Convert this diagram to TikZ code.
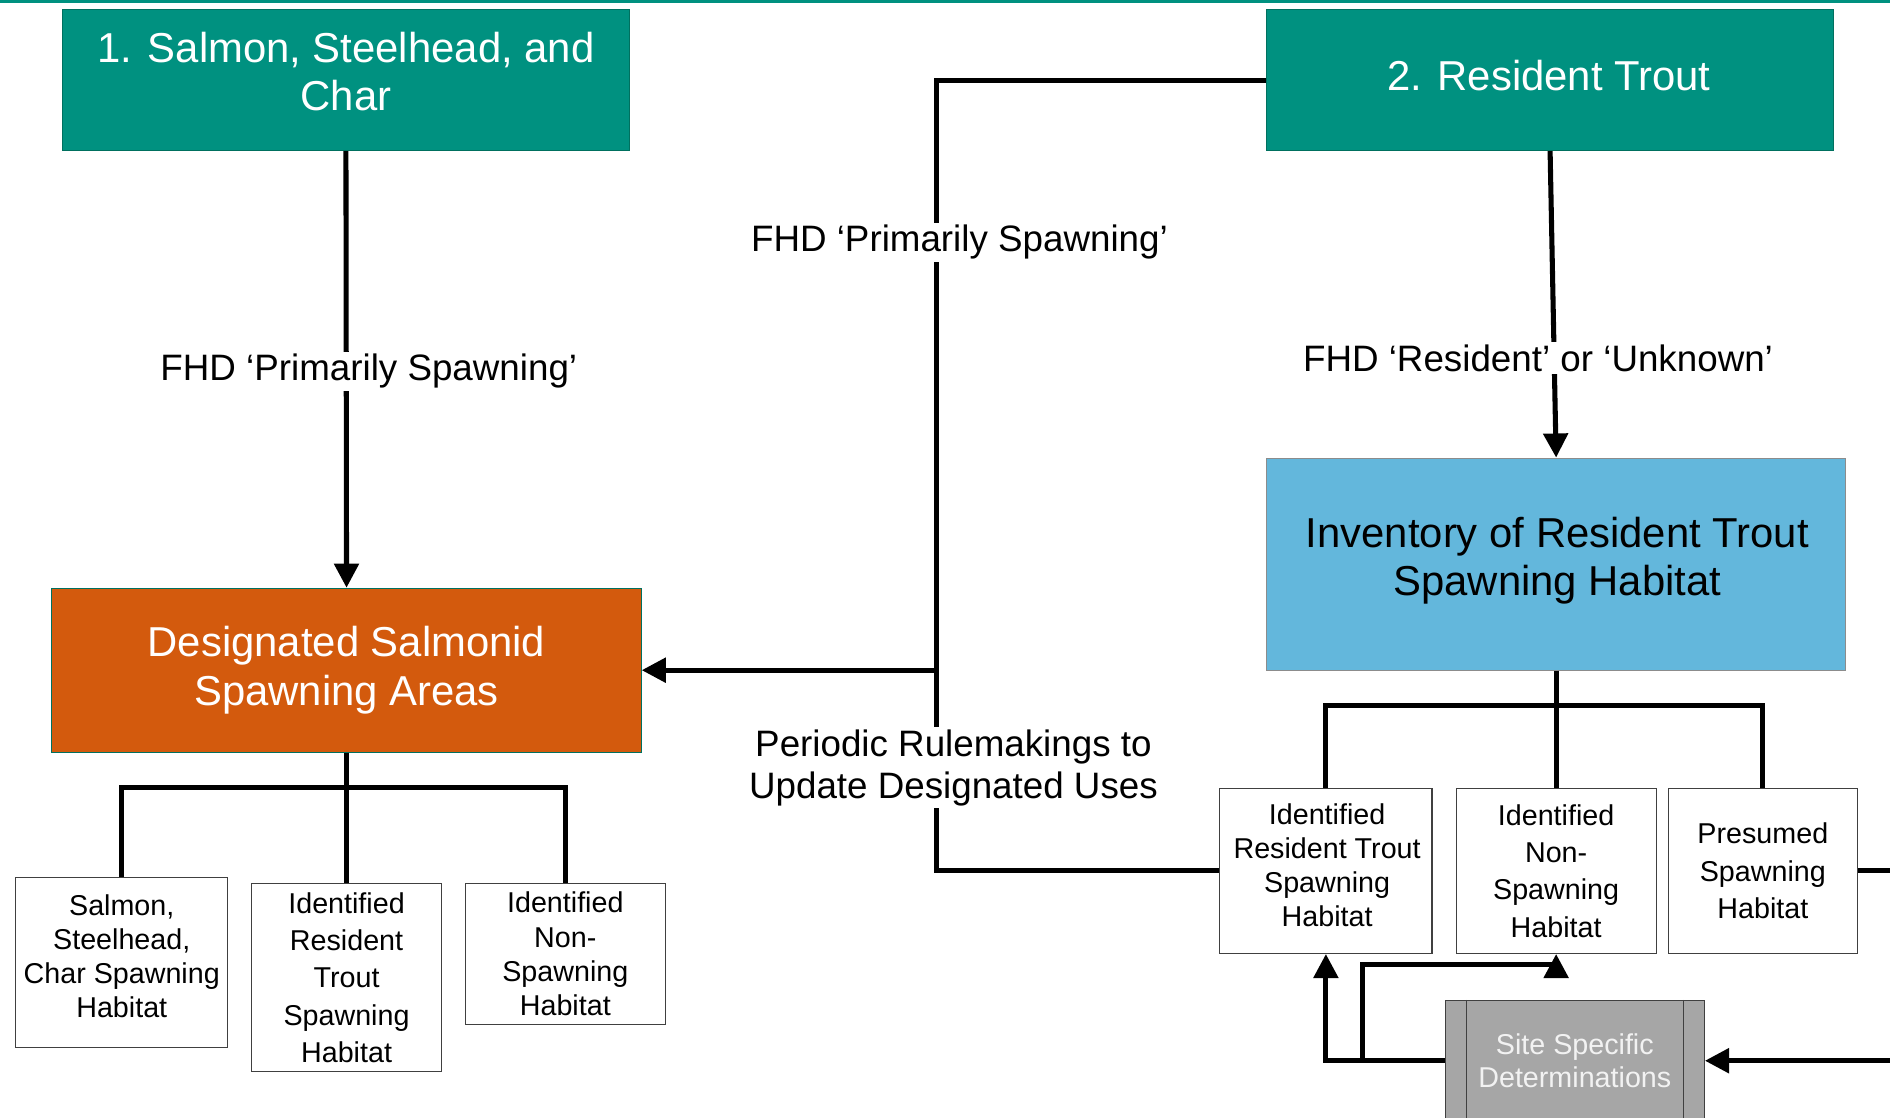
\documentclass[tikz,border=0pt]{standalone}
\usepackage{fontspec}
\setmainfont{Liberation Sans}
\usetikzlibrary{arrows.meta}
\definecolor{tealbox}{HTML}{009180}
\definecolor{tealedge}{HTML}{00705F}
\definecolor{orangebox}{HTML}{D35A0D}
\definecolor{bluebox}{HTML}{63B7DC}
\definecolor{graybox}{HTML}{A6A6A6}
\begin{document}
\begin{tikzpicture}[x=1pt,y=-1pt,
  conn/.style={line width=4.2pt},
  arr/.style={conn,-{Triangle[length=20pt,width=20pt]}},
  bigfont/.style={font=\fontsize{34.7}{40}\selectfont},
  tealnode/.style={draw=tealedge,line width=0.8pt,fill=tealbox,inner sep=0pt,minimum width=470pt,minimum height=117pt},
  orangenode/.style={bigfont,draw=tealedge,line width=0.8pt,fill=orangebox,text=white,align=center,inner sep=0pt,minimum width=489pt,minimum height=136pt},
  bluenode/.style={draw=black!45,line width=0.8pt,fill=bluebox,inner sep=0pt,minimum width=480pt,minimum height=176pt},
  bigtext/.style={bigfont,align=center,inner sep=0pt},
  smallbox/.style={draw=black!75,line width=0.9pt,fill=white,align=center,inner sep=0pt,font=\fontsize{23.8}{28.5}\selectfont},
  smalltext/.style={align=center,inner sep=0pt,font=\fontsize{23.8}{28.2}\selectfont},
  wideline/.style={font=\fontsize{23.8}{31}\selectfont},
  graynode/.style={draw=black!75,line width=0.9pt,fill=graybox,text=black!5,align=center,inner sep=0pt,font=\fontsize{23.8}{28}\selectfont,minimum width=215pt,minimum height=100pt},
  lbl/.style={fill=white,align=center,inner sep=2pt,font=\fontsize{30.5}{35}\selectfont}
]
\useasboundingbox (0,0) rectangle (1568,927);
\clip (0,0) rectangle (1568,927);
\fill[tealbox] (0,0) rectangle (1568,2.5);

% main boxes
\node[tealnode] (b1) at (287,66.5) {};
\node[bigtext,text=white] (b1t) at (287,59.5) {1. Salmon, Steelhead, and\\Char};
\node[tealnode] (b2) at (1286,66.5) {};
\node[bigtext,text=white] (b2t) at (1285,62.5) {2. Resident Trout};
\node[orangenode] (des) at (287.5,556) {Designated Salmonid\\Spawning Areas};
\node[bluenode] (inv) at (1291,468) {};
\node[bigtext,text=black] (invt) at (1292,465) {Inventory of Resident Trout\\Spawning Habitat};

% left small boxes
\node[smallbox,minimum width=176pt,minimum height=141pt] (sa) at (101,798.5) {};
\node[smalltext] (sat) at (101,793.5) {Salmon,\\Steelhead,\\Char Spawning\\Habitat};
\node[smallbox,wideline,minimum width=157pt,minimum height=156pt] (sb) at (287.5,811) {Identified\\Resident\\Trout\\Spawning\\Habitat};
\node[smallbox,minimum width=166pt,minimum height=117pt] (sc) at (469,791.5) {Identified\\Non-\\Spawning\\Habitat};

% right small boxes
\node[smallbox,minimum width=176pt,minimum height=137pt] (irt) at (1100,722.5) {};
\node[smalltext] (irtt) at (1101,718) {Identified\\Resident Trout\\Spawning\\Habitat};
\node[smallbox,wideline,minimum width=166pt,minimum height=137pt] (ins) at (1291,722.5) {Identified\\Non-\\Spawning\\Habitat};
\node[smallbox,wideline,minimum width=157pt,minimum height=137pt] (psh) at (1462.5,722.5) {Presumed\\Spawning\\Habitat};

% site specific
\node[graynode] (ssd) at (1306.5,880) {Site Specific\\Determinations};
\draw[black!75,line width=0.9pt] ([xshift=18pt]ssd.north west) -- ([xshift=18pt]ssd.south west);
\draw[black!75,line width=0.9pt] ([xshift=-18pt]ssd.north east) -- ([xshift=-18pt]ssd.south east);

% coordinates
\coordinate (j1) at (777,66.5);
\coordinate (j2) at (777,556);
\coordinate (j3) at (777,722.5);
\coordinate (t0) at (1291,585);
\coordinate (u0) at (287.5,653);
\coordinate (r1) at (1600,722.5);
\coordinate (r2) at (1600,880);
\coordinate (s1) at (1100,880);
\coordinate (s2) at (1130,880);
\coordinate (s3) at (1130,800);
\coordinate (s4) at (1291,800);

% connectors
\draw[arr] (b1.south) -- (des.north);
\draw[arr] (b2.west) -- (j1) -- (j2) -- (des.east);
\draw[conn] (j2) -- (j3) -- (irt.west);
\draw[arr] (b2.south) -- (inv.north);
\draw[conn] (inv.south) -- (ins.north);
\draw[conn] (irt.north) |- (t0) -| (psh.north);
\draw[conn] (des.south) -- (sb.north);
\draw[conn] (sa.north) |- (u0) -| (sc.north);
\draw[arr] (psh.east) -- (r1) -- (r2) -- (ssd.east);
\draw[arr] (ssd.west) -- (s1) -- (irt.south);
\draw[conn] (s2) -- (s3) -- (s4);
\draw[arr] (s4) -- (ins.south);

% labels
\node[lbl] (l1) at (306,308) {FHD ‘Primarily Spawning’};
\node[lbl] (l2) at (796,201) {FHD ‘Primarily Spawning’};
\node[lbl] (l3) at (791,637) {Periodic Rulemakings to\\Update Designated Uses};
\node[lbl] (l4) at (1276,297) {FHD ‘Resident’ or ‘Unknown’};
\end{tikzpicture}
\end{document}
